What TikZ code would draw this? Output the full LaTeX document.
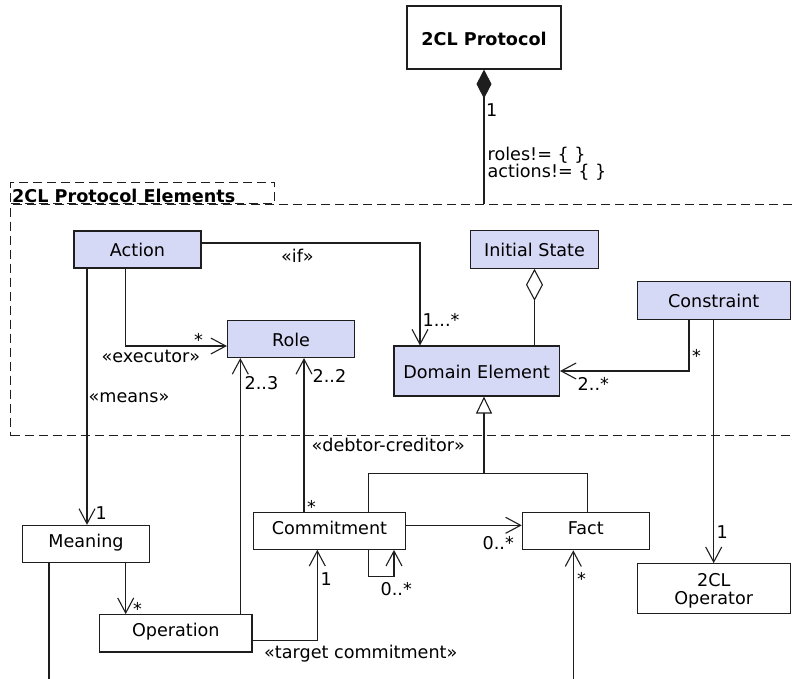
\documentclass[tikz,border=0pt]{standalone}
\usepackage{fontspec}
\setmainfont{DejaVu Sans}
\usetikzlibrary{arrows.meta}
\definecolor{boxblue}{RGB}{214,217,245}
\definecolor{ln}{RGB}{30,30,30}
\begin{document}
\begin{tikzpicture}[x=1pt,y=-1pt,
  font=\fontsize{17.6}{21}\selectfont,
  cls/.style={draw=ln, line width=1.1pt, inner sep=0pt, text height=14pt, text depth=0pt},
  bluecls/.style={cls, fill=boxblue},
  whitecls/.style={cls, fill=white, text height=10pt, text depth=3pt},
  conn/.style={draw=ln, line width=1.1pt},
  arr/.style={conn, -{Straight Barb[length=15pt,width=16pt,line width=1.1pt]}},
  pkgbox/.style={draw=ln, line width=1.1pt, dash pattern=on 9pt off 5pt, inner sep=0pt},
  lbl/.style={inner sep=0pt, anchor=base west}]
\useasboundingbox (0,0) rectangle (794,678);
\clip (0,0) rectangle (794,678);

% package
\node[pkgbox, anchor=north west, minimum width=800pt, minimum height=231pt] (pkg) at (10,204) {};
\node[pkgbox, anchor=south west, minimum width=264pt, minimum height=21pt] (tab) at (pkg.north west) {};
\node[lbl, font=\fontsize{17.6}{21}\selectfont\bfseries] (tabtext) at (12,202.5) {2CL Protocol Elements};

% classes
\node[cls, fill=white, minimum width=154pt, minimum height=63pt, text height=15pt, font=\fontsize{17.6}{21}\selectfont\bfseries] (proto) at (484,37.5) {2CL Protocol};
\node[bluecls, minimum width=127pt, minimum height=37pt] (action) at (137.5,249.5) {Action};
\node[bluecls, minimum width=127pt, minimum height=37pt] (role) at (291,339) {Role};
\node[bluecls, minimum width=127.5pt, minimum height=37.5pt] (init) at (534.5,249.5) {Initial State};
\node[bluecls, minimum width=165.5pt, minimum height=50pt] (dom) at (476.7,371) {Domain Element};
\node[bluecls, minimum width=152.7pt, minimum height=37.6pt] (cons) at (713.7,300.5) {Constraint};
\node[whitecls, minimum width=126.6pt, minimum height=36.7pt] (meaning) at (86,543.7) {Meaning};
\node[whitecls, minimum width=152.3pt, minimum height=37.3pt] (oper) at (175.8,633.3) {Operation};
\node[whitecls, minimum width=152.4pt, minimum height=36.6pt] (commit) at (329.5,531) {Commitment};
\node[whitecls, minimum width=127pt, minimum height=37.5pt] (fact) at (585.8,531) {Fact};
\node[draw=ln, line width=1.1pt, inner sep=0pt, fill=white, minimum width=152.7pt, minimum height=50pt, align=center, text depth=0pt, font=\fontsize{17.6}{17.7}\selectfont] (op2) at (713.7,588.7) {2CL\\Operator};

\coordinate (gj) at (484,473.3);
\coordinate (mb) at (49,700);
\coordinate (fb) at (573.3,700);

% connectors
\draw[conn, {Diamond[length=29pt,width=15pt]}-] (proto.south) -- (proto.south |- pkg.north);
\draw[arr] ([yshift=6.5pt]action.east) -| ([xshift=-56.7pt]dom.north);
\draw[arr] ([xshift=-11.8pt]action.south) |- ([yshift=-7pt]role.west);
\draw[arr] ([xshift=-50.5pt]action.south) -- ([xshift=-50.5pt]action.south |- meaning.north);
\draw[conn, {Diamond[open,length=32pt,width=17pt,line width=1.1pt]}-] (init.south) -- (init.south |- dom.north);
\draw[arr] ([xshift=-24.7pt]cons.south) |- (dom.east);
\draw[arr] (cons.south) -- (op2.north);
\draw[conn, -{Triangle[open,length=17pt,width=16pt,line width=1.1pt]}] (gj) -- (gj |- dom.south);
\draw[conn] ([xshift=38.8pt]commit.north) |- (gj) -| ([xshift=1.5pt]fact.north);
\draw[arr] ([xshift=-25.5pt]commit.north) -- ([xshift=-25.5pt]commit.north |- role.south);
\draw[arr] ([xshift=64.5pt]oper.north) -- ([xshift=64.5pt]oper.north |- role.south);
\draw[arr] ([xshift=39.7pt]meaning.south) -- ([xshift=39.7pt]meaning.south |- oper.north);
\draw[arr] ([yshift=-7pt]oper.east) -| ([xshift=-12.2pt]commit.south);
\draw[arr] ([xshift=38.8pt]commit.south) -- ++(0,27) -| ([xshift=64.5pt]commit.south);
\draw[arr] ([yshift=5.7pt]commit.east) -- ([yshift=5.7pt]commit.east -| fact.west);
\draw[conn] ([xshift=-37pt]meaning.south) -- ([xshift=-37pt]meaning.south |- mb);
\draw[arr] (fb) -- (fb |- fact.south);

% labels
\node[lbl] (l1) at (486,116) {1};
\node[lbl] (l2) at (487.5,160) {roles!= \{ \}};
\node[lbl] (l3) at (487.5,177.3) {actions!= \{ \}};
\node[lbl] (l4) at (281,262) {«if»};
\node[lbl] (l5) at (422.5,326) {1...*};
\node[lbl] (l6) at (194,346.5) {*};
\node[lbl] (l7) at (101.5,362.3) {«executor»};
\node[lbl] (l8) at (88.5,402.5) {«means»};
\node[lbl] (l9) at (244.5,389.3) {2..3};
\node[lbl] (l10) at (312.5,382.7) {2..2};
\node[lbl] (l11) at (692,362.6) {*};
\node[lbl] (l12) at (577.5,390.7) {2..*};
\node[lbl] (l13) at (311.5,451.7) {«debtor-creditor»};
\node[lbl] (l14) at (307,513.5) {*};
\node[lbl] (l15) at (95.5,519.3) {1};
\node[lbl] (l16) at (716.5,538.3) {1};
\node[lbl] (l17) at (482.5,549.3) {0..*};
\node[lbl] (l18) at (380.5,595) {0..*};
\node[lbl] (l19) at (320.5,585) {1};
\node[lbl] (l20) at (577,585.6) {*};
\node[lbl] (l21) at (133,615.3) {*};
\node[lbl] (l22) at (264,658.5) {«target commitment»};
\end{tikzpicture}
\end{document}
